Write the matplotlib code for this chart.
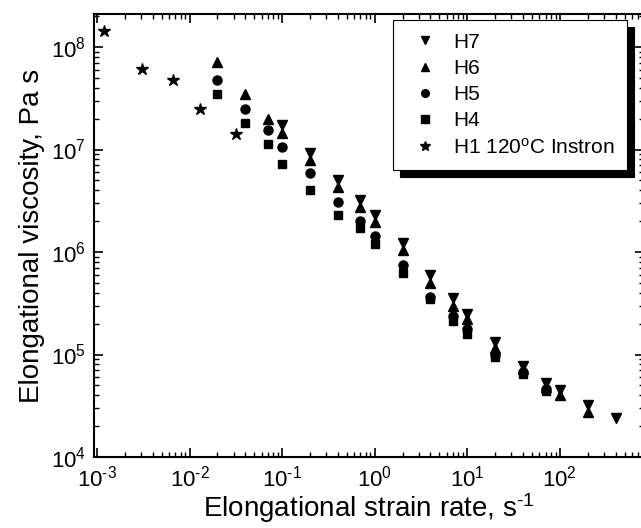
import matplotlib
matplotlib.use("Agg")
import matplotlib.pyplot as plt
import numpy as np
from matplotlib.ticker import FuncFormatter, LogLocator

plt.rcParams['font.family'] = ['Liberation Sans', 'DejaVu Sans']
plt.rcParams['mathtext.fontset'] = 'custom'
plt.rcParams['mathtext.rm'] = 'Liberation Sans'
plt.rcParams['mathtext.it'] = 'Liberation Sans:italic'
plt.rcParams['mathtext.default'] = 'regular'

# strain rates (1/s) and elongational viscosities (Pa s)
rate_h7 = [0.1, 0.2, 0.4, 0.7, 1, 2, 4, 7, 10, 20, 40, 70, 100, 200, 400]
visc_h7 = [1.74e7, 9.3e6, 5.0e6, 3.2e6, 2.3e6, 1.23e6, 6.0e5, 3.55e5, 2.5e5,
           1.32e5, 7.8e4, 5.3e4, 4.5e4, 3.2e4, 2.4e4]

rate_h6 = [0.02, 0.04, 0.07, 0.1, 0.2, 0.4, 0.7, 1, 2, 4, 7, 10, 20, 40, 70, 100, 200]
visc_h6 = [7.1e7, 3.5e7, 2.0e7, 1.44e7, 7.9e6, 4.3e6, 2.75e6, 1.95e6, 1.05e6,
           5.0e5, 3.0e5, 2.2e5, 1.15e5, 7.2e4, 4.8e4, 4.0e4, 2.75e4]

rate_h5 = [0.02, 0.04, 0.07, 0.1, 0.2, 0.4, 0.7, 1, 2, 4, 7, 10, 20, 40, 70]
visc_h5 = [4.8e7, 2.5e7, 1.55e7, 1.05e7, 5.9e6, 3.1e6, 2.0e6, 1.43e6, 7.4e5,
           3.6e5, 2.4e5, 1.78e5, 9.9e4, 6.7e4, 4.6e4]

rate_h4 = [0.02, 0.04, 0.07, 0.1, 0.2, 0.4, 0.7, 1, 2, 4, 7, 10, 20, 40, 70]
visc_h4 = [3.5e7, 1.8e7, 1.12e7, 7.2e6, 4.0e6, 2.3e6, 1.7e6, 1.2e6, 6.3e5,
           3.5e5, 2.1e5, 1.6e5, 9.5e4, 6.5e4, 4.4e4]

rate_h1 = [0.0012, 0.0031, 0.0066, 0.0129, 0.0316]
visc_h1 = [1.43e8, 6.1e7, 4.8e7, 2.5e7, 1.42e7]


def pow10(v, pos):
    e = int(round(np.log10(v)))
    return '$10^{%s}$' % str(e).replace('-', '\u2010')


fig = plt.figure(figsize=(6.41, 5.28), dpi=100)
ax = fig.add_axes([94 / 641, 71 / 528, 550 / 641, 443 / 528])

ax.plot(rate_h7, visc_h7, 'v', color='black', ms=7.5, ls='none', label='H7')
ax.plot(rate_h6, visc_h6, '^', color='black', ms=7.5, ls='none', label='H6')
ax.plot(rate_h5, visc_h5, 'o', color='black', ms=6.5, ls='none', label='H5')
ax.plot(rate_h4, visc_h4, 's', color='black', ms=6, ls='none', label='H4')
ax.plot(rate_h1, visc_h1, '*', color='black', ms=9, ls='none',
        label='H1 120$^{o}$C Instron')

ax.set_xscale('log')
ax.set_yscale('log')
ax.set_xlim(9.3e-4, 810)
ax.set_ylim(1e4, 2.1e8)

ax.set_xlabel('Elongational strain rate, s$^{\u20101}$', fontsize=20, labelpad=0)
ax.set_ylabel('Elongational viscosity, Pa s', fontsize=20, labelpad=4)

for s in ax.spines.values():
    s.set_linewidth(1.5)
ax.tick_params(which='both', direction='in', top=True, right=True, labelsize=16)
ax.tick_params(which='major', length=6.5, width=1.2, pad=6)
ax.tick_params(which='minor', length=3.5, width=1)
for axis in (ax.xaxis, ax.yaxis):
    axis.set_major_locator(LogLocator(base=10, numticks=12))
    axis.set_minor_locator(LogLocator(base=10, subs=np.arange(2, 10), numticks=12))
    axis.set_major_formatter(FuncFormatter(pow10))

leg = ax.legend(loc='upper right', bbox_to_anchor=(627 / 641, 1 - 20 / 528),
                bbox_transform=fig.transFigure, borderaxespad=0,
                fontsize=15, fancybox=False, framealpha=1, edgecolor='black',
                markerscale=0.85, handletextpad=0.45, labelspacing=0.35,
                borderpad=0.6, handlelength=1.8,
                shadow={'ox': 5, 'oy': -5, 'color': 'black', 'alpha': 1})
leg.get_frame().set_linewidth(0.8)

fig.savefig('out.png', dpi=100)
